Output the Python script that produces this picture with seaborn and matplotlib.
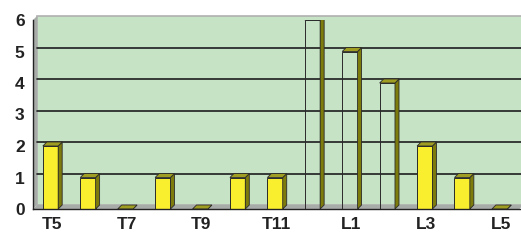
import matplotlib
matplotlib.use("Agg")
import matplotlib.pyplot as plt
from matplotlib.patches import Polygon
import seaborn as sns
import pandas as pd

# data
categories = ["T5", "T6", "T7", "T8", "T9", "T10", "T11", "T12", "L1", "L2", "L3", "L4", "L5"]
counts = [2, 1, 0, 1, 0, 1, 1, 6, 5, 4, 2, 1, 0]
hollow = [False, False, False, False, False, False, False, True, True, True, False, False, False]
shown_labels = ["T5", "T7", "T9", "T11", "L1", "L3", "L5"]

WALL = "#c6e3c6"
YELLOW = "#f9ef2e"
SIDE = "#7d7b0c"
TOP = "#a09e22"
EDGE = "#2a2a2a"
DX, DY = 4.0, 4.0  # depth offset in pixels

sns.set_style("white")
plt.rcParams["font.family"] = ["Liberation Sans", "DejaVu Sans"]

df = pd.DataFrame({"cat": categories, "n": counts})

fig = plt.figure(figsize=(5.21, 2.40), dpi=100)
ax = fig.add_axes([33 / 521, 31 / 240, 486.5 / 521, 189 / 240])
ax.set_facecolor("none")
ax.set_xlim(-0.5, len(categories) - 0.5)
ax.set_ylim(0, 6)

# pixel -> data units
ux = ax.transData.transform((1, 0))[0] - ax.transData.transform((0, 0))[0]
uy = ax.transData.transform((0, 1))[1] - ax.transData.transform((0, 0))[1]
ddx, ddy = DX / ux, DY / uy
x0, x1 = -0.5, len(categories) - 0.5

# back wall, side wall and floor
ax.add_patch(Polygon([(x0 + ddx, ddy), (x1 + ddx, ddy), (x1 + ddx, 6 + ddy), (x0 + ddx, 6 + ddy)],
                     closed=True, facecolor=WALL, edgecolor="#b0b0b0", lw=1.2, zorder=0, clip_on=False))
ax.add_patch(Polygon([(x0, 0), (x0 + ddx, ddy), (x0 + ddx, 6 + ddy), (x0, 6)],
                     closed=True, facecolor="#a8aca8", edgecolor="none", zorder=0.5, clip_on=False))
ax.add_patch(Polygon([(x0, 0), (x1, 0), (x1 + ddx, ddy), (x0 + ddx, ddy)],
                     closed=True, facecolor="#a8aca8", edgecolor="none", zorder=0.5, clip_on=False))
for v in range(1, 6):
    ax.plot([x0 + ddx, x1 + ddx], [v + ddy, v + ddy], color="#1e1e1e", lw=1.2, zorder=1, clip_on=False)

n_before = len(ax.patches)
sns.barplot(data=df, x="cat", y="n", color=YELLOW, width=0.41, edgecolor=EDGE,
            linewidth=0.7, saturation=1, ax=ax, zorder=3)
ax.set_xlim(x0, x1)
ax.set_ylim(0, 6)

for bar, empty in zip(ax.patches[n_before:], hollow):
    bar.set_x(bar.get_x() - 0.3 * ddx)
    if empty:
        bar.set_fill(False)
    bx, bw, bh = bar.get_x(), bar.get_width(), bar.get_height()
    side = [(bx + bw, 0), (bx + bw, bh), (bx + bw + ddx, bh + ddy), (bx + bw + ddx, ddy)]
    top = [(bx, bh), (bx + bw, bh), (bx + bw + ddx, bh + ddy), (bx + ddx, bh + ddy)]
    ax.add_patch(Polygon(side, closed=True, facecolor=SIDE, edgecolor=EDGE, lw=0.6, zorder=3))
    ax.add_patch(Polygon(top, closed=True, facecolor=TOP, edgecolor=EDGE, lw=0.6, zorder=3))

# axes styling
for s in ["top", "right"]:
    ax.spines[s].set_visible(False)
for s in ["left", "bottom"]:
    ax.spines[s].set_color("#222222")
    ax.spines[s].set_linewidth(1.0)
    ax.spines[s].set_zorder(4)

ax.set_yticks(range(0, 7))
ax.tick_params(axis="y", length=3, width=1, color="#222222", pad=3,
               labelsize=12.5, labelcolor="#222222")
ax.set_xticks([categories.index(c) for c in shown_labels])
ax.set_xticklabels(shown_labels)
ax.set_xticks([i + 0.5 for i in range(-1, len(categories))], minor=True)
ax.tick_params(axis="x", which="major", length=0, pad=6, labelsize=12.5, labelcolor="#222222")
ax.tick_params(axis="x", which="minor", length=4, width=1, color="#222222", direction="out")
for lab in ax.get_xticklabels() + ax.get_yticklabels():
    lab.set_fontweight("bold")
ax.set_xlabel("")
ax.set_ylabel("")

fig.savefig("out.png", dpi=100)
